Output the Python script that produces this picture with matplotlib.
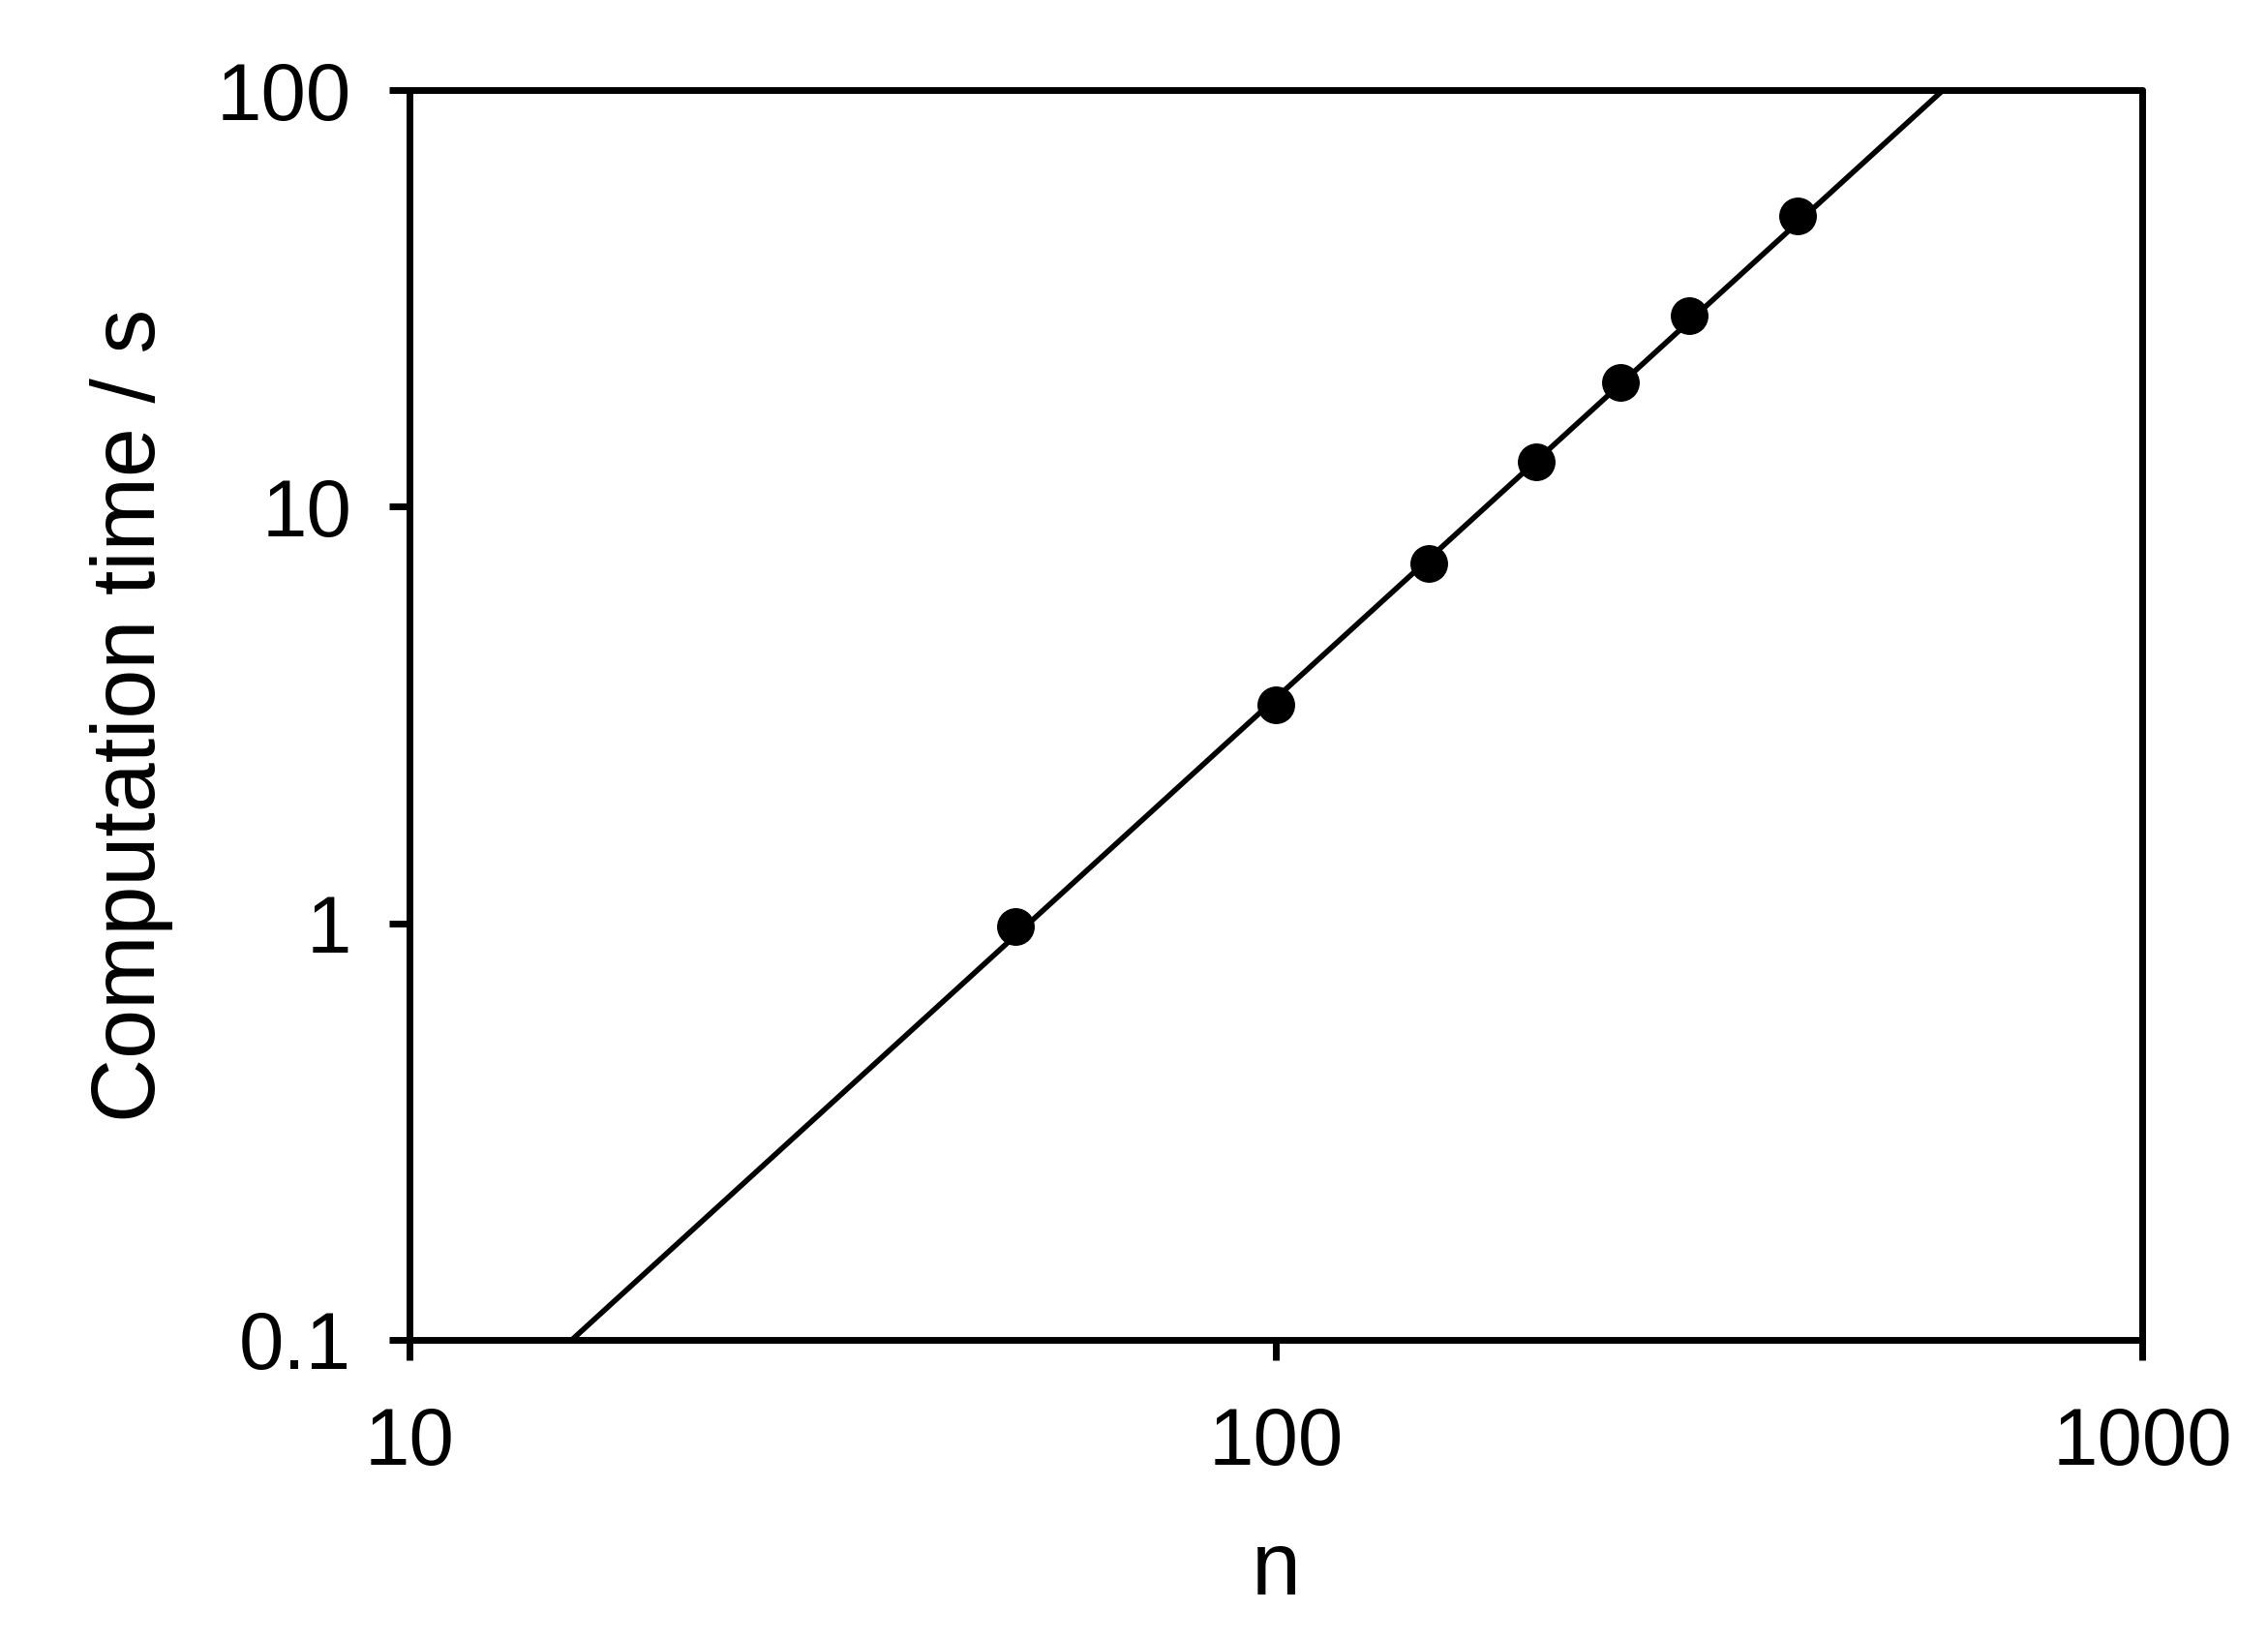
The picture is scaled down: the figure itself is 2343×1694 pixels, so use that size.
import numpy as np
import matplotlib.pyplot as plt
from matplotlib.ticker import FixedLocator, FixedFormatter, NullLocator

plt.rcParams['font.family'] = ['Liberation Sans', 'DejaVu Sans']

# measured points
n_vals = [50, 100, 150, 200, 250, 300, 400]
t_vals = [0.98, 3.35, 7.3, 12.8, 19.9, 28.7, 49.9]

# fitted power-law line, read at the axes edges
fit_n = [15.4, 589]
fit_t = [0.1, 100]

x_ticks = [10, 100, 1000]
x_labels = ['10', '100', '1000']
y_ticks = [0.1, 1, 10, 100]
y_labels = ['0.1', '1', '10', '100']

fig = plt.figure(figsize=(23.43, 16.94), dpi=100)
ax = fig.add_axes([0.1805, 0.183, 0.764, 0.762])

ax.plot(fit_n, fit_t, '-', color='black', lw=4)
ax.plot(n_vals, t_vals, 'o', color='black', ms=27)

ax.set_xscale('log')
ax.set_yscale('log')
ax.set_xlim(10, 1000)
ax.set_ylim(0.1, 100)

ax.xaxis.set_major_locator(FixedLocator(x_ticks))
ax.xaxis.set_major_formatter(FixedFormatter(x_labels))
ax.yaxis.set_major_locator(FixedLocator(y_ticks))
ax.yaxis.set_major_formatter(FixedFormatter(y_labels))
ax.xaxis.set_minor_locator(NullLocator())
ax.yaxis.set_minor_locator(NullLocator())

for s in ax.spines.values():
    s.set_linewidth(5)
    s.set_capstyle('round')
ax.tick_params(axis='both', which='major', direction='out', length=15, width=5,
               labelsize=60, top=False, right=False)
ax.tick_params(axis='x', pad=34)
ax.tick_params(axis='y', pad=28)

ax.set_xlabel('n', fontsize=66, labelpad=36)
ax.set_ylabel('Computation time / s', fontsize=66, labelpad=32)

fig.savefig('out.png', dpi=100)
